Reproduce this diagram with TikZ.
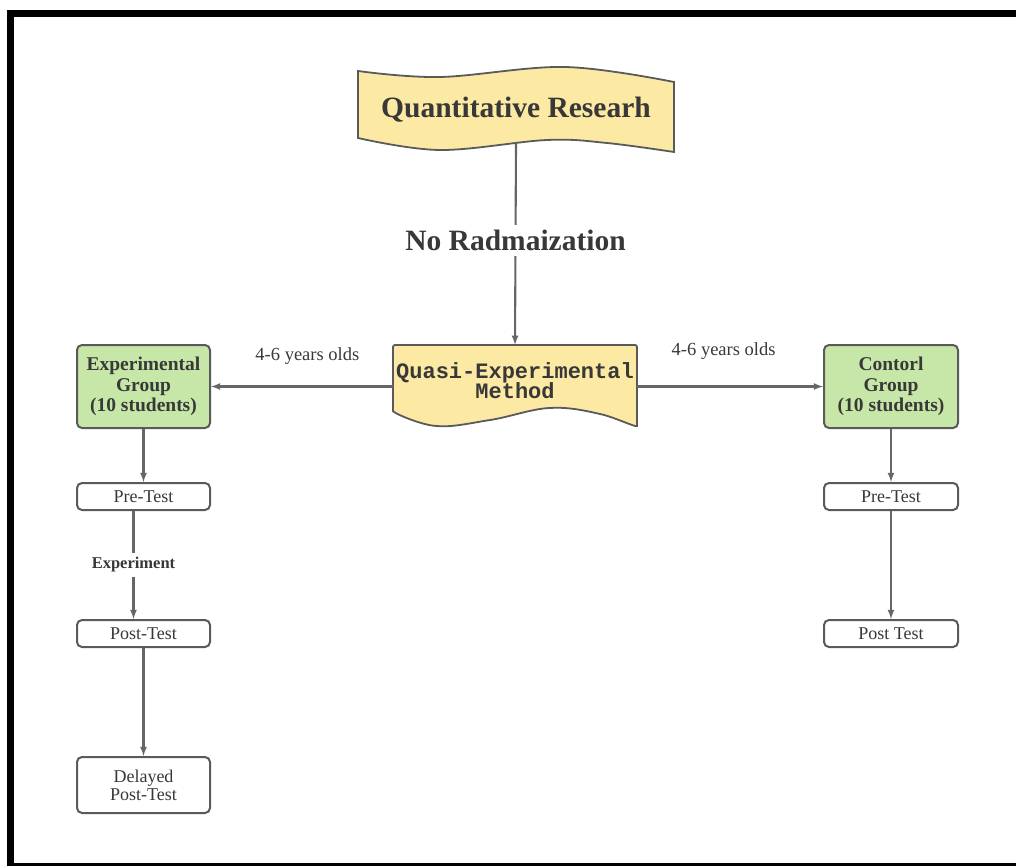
\documentclass[tikz,border=0pt]{standalone}
\usepackage{fontspec}
\setmainfont{Liberation Serif}
\setmonofont{Liberation Mono}
\usetikzlibrary{positioning}
\definecolor{linegray}{HTML}{666666}
\definecolor{edgegray}{HTML}{5A5A5A}
\definecolor{textgray}{HTML}{383838}
\definecolor{notegreen}{HTML}{C6E7A8}
\definecolor{noteyellow}{HTML}{FCE9A4}
\newcommand\tightlines{\lineskiplimit=-20pt\relax}
\tikzset{
  >=latex,
  box/.style = {
    draw=edgegray, line width=2pt, rounded corners=5pt,
    minimum width=133pt, align=center, text=textgray
  },
  group/.style = {box, fill=notegreen, minimum height=83pt,
    font={\bfseries\fontsize{19.5}{20.5}\selectfont\tightlines}},
  testbox/.style = {box, fill=white, minimum height=27pt,
    font={\fontsize{18}{18}\selectfont\tightlines}},
  flag/.style = {align=center, text=textgray, inner sep=0pt},
  flagline/.style = {draw=edgegray, line width=1.8pt, fill=noteyellow},
  link/.style = {->, draw=linegray, line width=2.1pt},
  tag/.style = {text=textgray, fill=white, inner sep=5pt}
}

\begin{document}
\begin{tikzpicture}[x=1pt,y=-1pt]
  \useasboundingbox (0,0) rectangle (1016,866);
  \clip (0,0) rectangle (1016,866);
  \draw[line width=7pt] (10.5,13.5) rectangle (1024,866.5);
  %
  % wavy banners
  \filldraw[flagline] plot[smooth, tension=0.6] coordinates {(358,71) (440,77) (565,67) (674,82)}
    -- plot[smooth, tension=0.6] coordinates {(674,152) (607,143) (547,140) (440,150) (358,138)} -- cycle;
  \filldraw[flagline, rounded corners=2pt] (393,413) -- (393,345) -- (637,345)
    -- plot[smooth, tension=0.6] coordinates {(637,428) (600,414) (550,408) (490,420) (437,426) (393,413)} -- cycle;
  %
  \node[flag, minimum width=316pt, minimum height=68pt,
        font={\bfseries\fontsize{29.5}{32}\selectfont}] (qr) at (516,110) {Quantitative Researh};
  \node[flag, minimum width=244pt, minimum height=72pt,
        font={\ttfamily\bfseries\fontsize{22}{20}\selectfont\tightlines}] (qem) at (515,381) {Quasi-Experimental\\Method};
  %
  \node[group] (expg) at (143.5,386.5) {Experimental\\Group\\(10 students)};
  \node[group, minimum width=134pt] (ctlg) at (891,386.5) {Contorl\\Group\\(10 students)};
  %
  \node[testbox] (preL) at (143.5,496.5) {Pre-Test};
  \node[testbox] (postL) at (143.5,633.5) {Post-Test};
  \node[testbox, minimum height=56pt] (delay) at (143.5,785) {Delayed\\Post-Test};
  \node[testbox, minimum width=134pt] (preR) at (891,496.5) {Pre-Test};
  \node[testbox, minimum width=134pt] (postR) at (891,633.5) {Post Test};
  %
  \draw[link] (qr.south) -- node[pos=0.48, tag, font={\bfseries\fontsize{29.5}{32}\selectfont}] (norand) {No Radmaization} (qem.north);
  \draw[link] (qem.west |- expg.east) -- node[pos=0.47, above=18pt, text=textgray, font={\fontsize{18.5}{20}\selectfont}] (ageL) {4-6 years olds} (expg.east);
  \draw[link] (qem.east |- ctlg.west) -- node[pos=0.465, above=23pt, text=textgray, font={\fontsize{18.5}{20}\selectfont}] (ageR) {4-6 years olds} (ctlg.west);
  %
  \draw[link] (expg.south) -- (preL.north);
  \draw[link] ([xshift=-10pt]preL.south) -- node[tag, font={\bfseries\fontsize{16.5}{18}\selectfont}] (exper) {Experiment} ([xshift=-10pt]postL.north);
  \draw[link] (postL.south) -- (delay.north);
  %
  \draw[link] (ctlg.south) -- (preR.north);
  \draw[link] (preR.south) -- (postR.north);
\end{tikzpicture}
\end{document}
